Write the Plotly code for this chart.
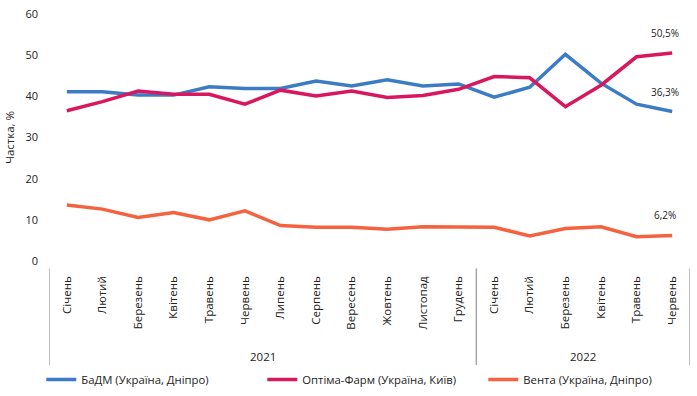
import plotly.graph_objects as go

months = ["Січень", "Лютий", "Березень", "Квітень", "Травень", "Червень", "Липень", "Серпень",
          "Вересень", "Жовтень", "Листопад", "Грудень",
          "Січень", "Лютий", "Березень", "Квітень", "Травень", "Червень"]
years = ["2021"] * 12 + ["2022"] * 6
year_labels = ["2021", "2022"]

badm = [41.1, 41.1, 40.3, 40.3, 42.3, 41.9, 41.9, 43.7, 42.5, 44.0, 42.5, 43.0,
        39.8, 42.2, 50.2, 43.2, 38.1, 36.3]
optima = [36.5, 38.7, 41.3, 40.5, 40.5, 38.1, 41.5, 40.1, 41.3, 39.7, 40.2, 41.7,
          44.8, 44.5, 37.5, 42.7, 49.6, 50.5]
venta = [13.6, 12.6, 10.6, 11.8, 10.0, 12.2, 8.6, 8.2, 8.2, 7.7, 8.3, 8.2,
         8.2, 6.1, 7.9, 8.3, 5.9, 6.2]

names = ["БаДМ (Україна, Дніпро)", "Оптіма-Фарм (Україна, Київ)", "Вента (Україна, Дніпро)"]
colors = ["#3b7cc4", "#d9175f", "#f4623f"]
series = [badm, optima, venta]

x = list(range(len(months)))
font = "Open Sans, Noto Sans, sans-serif"

fig = go.Figure()
for name, vals, c in zip(names, series, colors):
    fig.add_trace(go.Scatter(x=x, y=vals, name=name, mode="lines",
                             line=dict(color=c, width=3.5)))

# end-of-line value labels
for vals in series:
    fig.add_annotation(x=x[-1], y=vals[-1], text=f"{vals[-1]:.1f}%".replace(".", ","),
                       showarrow=False, yshift=20, xshift=-7,
                       font=dict(size=10, color="#222", family=font))

# year group labels and dividers
n_first = years.count("2021")
groups = [(0, n_first - 1), (n_first, len(months) - 1)]
for (a, b), lab in zip(groups, year_labels):
    fig.add_annotation(x=(a + b) / 2, y=-0.385, xref="x", yref="paper", text=lab,
                       yanchor="middle", showarrow=False,
                       font=dict(size=11.5, color="#222", family=font))
for xb in [-0.5, n_first - 0.5, len(months) - 0.5]:
    fig.add_shape(type="line", xref="x", yref="paper", x0=xb, x1=xb, y0=-0.03, y1=-0.425,
                  line=dict(color="#a6a6a6", width=1.5))

fig.update_layout(
    width=697, height=396,
    margin=dict(l=49, r=7, t=14, b=135, autoexpand=False),
    paper_bgcolor="white", plot_bgcolor="white",
    font=dict(family=font, size=11, color="#222"),
    showlegend=True,
    legend=dict(orientation="h", x=-0.012, xanchor="left", y=-0.48, yanchor="middle",
                font=dict(size=11.3, family=font), itemwidth=30, tracegroupgap=0,
                entrywidth=176),
)
fig.update_xaxes(
    tickmode="array", tickvals=x, ticktext=months, tickangle=-90, automargin=False,
    range=[-0.5, len(months) - 0.5], showgrid=False, zeroline=False, showline=False,
    ticks="", ticklabelstandoff=12, tickfont=dict(size=11.5, family=font),
)
fig.update_yaxes(
    range=[0, 60], dtick=10, showgrid=False, zeroline=False, showline=False, automargin=False,
    ticks="", ticklabelstandoff=10, ticklabeloverflow="allow", tickfont=dict(size=11, family=font),
    title=dict(text="Частка, %", font=dict(size=11.5, family=font), standoff=8),
)

# remove the browser's default 8px body margin so the figure fills the window
fig.write_html("out.html", config={"displayModeBar": False},
               post_script="document.body.style.margin='0';")
